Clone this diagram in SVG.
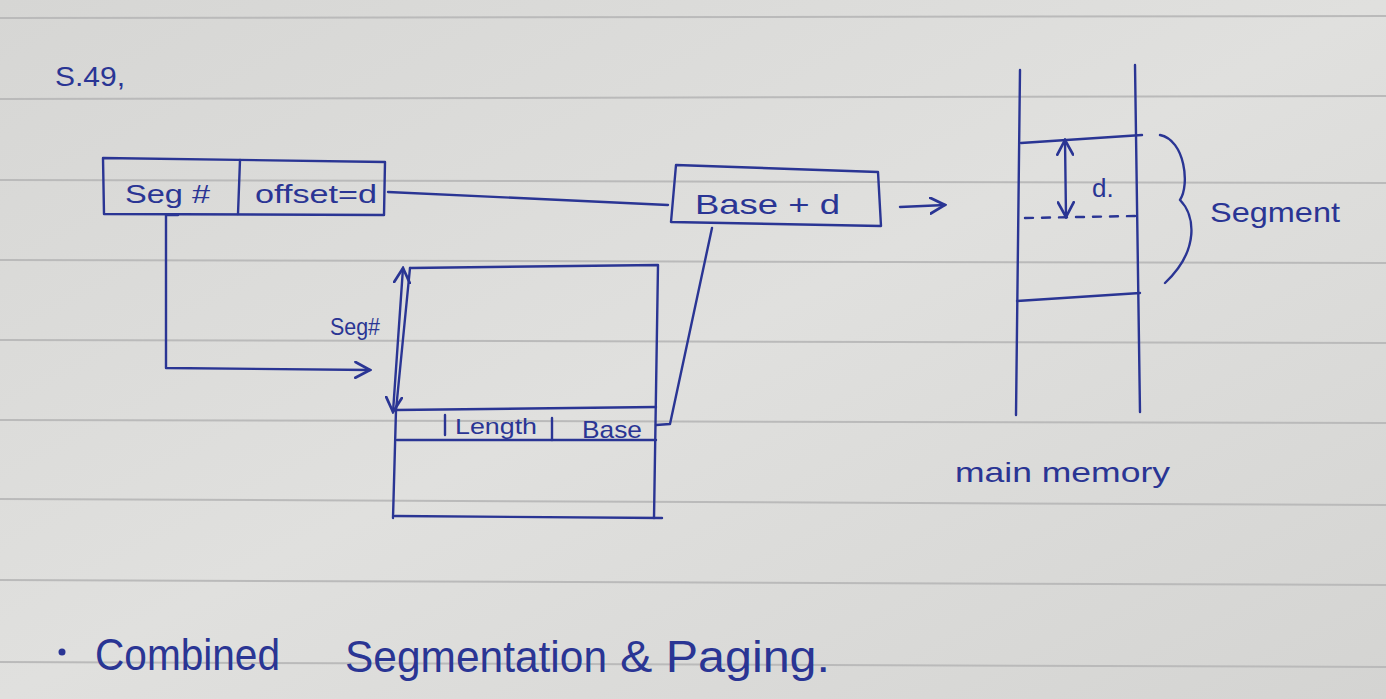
<svg xmlns="http://www.w3.org/2000/svg" width="1386" height="699" viewBox="0 0 1386 699">
<defs>
<linearGradient id="paper" x1="0" y1="0" x2="1" y2="1">
<stop offset="0" stop-color="#d6d6d4"/>
<stop offset="0.5" stop-color="#e0e0de"/>
<stop offset="1" stop-color="#d4d4d2"/>
</linearGradient>
<marker id="open" viewBox="0 0 16 16" refX="14" refY="8" markerWidth="18" markerHeight="18" markerUnits="userSpaceOnUse" orient="auto-start-reverse">
<path d="M1,1 L14,8 L1,15" fill="none" stroke="#2a3594" stroke-width="2.4" stroke-linecap="round"/>
</marker>
</defs>
<style>
.ink{fill:none;stroke:#2a3594;stroke-width:2.4;stroke-linecap:round;stroke-linejoin:round}
.rule{stroke:#bababa;stroke-width:2}
.t{fill:#2a3594;font-family:"Liberation Sans","DejaVu Sans",sans-serif}
</style>
<rect width="1386" height="699" fill="url(#paper)"/>
<g id="ruling">
<line class="rule" x1="0" y1="18" x2="1386" y2="16"/>
<line class="rule" x1="0" y1="99" x2="1386" y2="96"/>
<line class="rule" x1="0" y1="180" x2="1386" y2="183"/>
<line class="rule" x1="0" y1="260" x2="1386" y2="263"/>
<line class="rule" x1="0" y1="340" x2="1386" y2="343"/>
<line class="rule" x1="0" y1="420" x2="1386" y2="423"/>
<line class="rule" x1="0" y1="499" x2="1386" y2="505"/>
<line class="rule" x1="0" y1="580" x2="1386" y2="585"/>
<line class="rule" x1="0" y1="662" x2="1386" y2="667"/>
</g>
<text class="t" x="55" y="86" font-size="28" textLength="70" lengthAdjust="spacingAndGlyphs">S.49,</text>
<g id="logical-address">
<path class="ink" d="M103,158 L385,162 L384,215 L104,214 Z"/>
<line class="ink" x1="240" y1="160" x2="238" y2="214"/>
<text class="t" x="125" y="203" font-size="26" textLength="85" lengthAdjust="spacingAndGlyphs">Seg #</text>
<text class="t" x="255" y="203" font-size="26" textLength="122" lengthAdjust="spacingAndGlyphs">offset=d</text>
</g>
<g id="physical-address">
<path class="ink" d="M676,165 L878,172 L881,226 L671,222 Z"/>
<text class="t" x="695" y="214" font-size="28" textLength="145" lengthAdjust="spacingAndGlyphs">Base + d</text>
</g>
<g id="segment-table">
<path class="ink" d="M410,268 L658,265 L654,518"/>
<line class="ink" x1="396" y1="410" x2="393" y2="518"/>
<line class="ink" x1="410" y1="268" x2="396" y2="410"/>
<path class="ink" d="M396,410 L656,407"/>
<path class="ink" d="M397,440 L656,440"/>
<path class="ink" d="M395,516 L662,518"/>
<line class="ink" x1="445" y1="415" x2="445" y2="435"/>
<line class="ink" x1="552" y1="418" x2="552" y2="440"/>
<text class="t" x="455" y="434" font-size="22" textLength="82" lengthAdjust="spacingAndGlyphs">Length</text>
<text class="t" x="582" y="438" font-size="24" textLength="60" lengthAdjust="spacingAndGlyphs">Base</text>
<text class="t" x="330" y="335" font-size="24" textLength="50" lengthAdjust="spacingAndGlyphs">Seg#</text>
</g>
<g id="main-memory">
<line class="ink" x1="1020" y1="70" x2="1016" y2="415"/>
<line class="ink" x1="1135" y1="65" x2="1140" y2="412"/>
<path class="ink" d="M1021,143 L1142,135"/>
<path class="ink" d="M1017,301 L1140,293"/>
<line class="ink" x1="1025" y1="218" x2="1135" y2="216" stroke-dasharray="8,9"/>
<text class="t" x="1092" y="197" font-size="26">d.</text>
<path class="ink" d="M1160,135 C1185,140 1190,185 1180,200 C1195,215 1200,250 1165,283"/>
<text class="t" x="1210" y="222" font-size="28" textLength="130" lengthAdjust="spacingAndGlyphs">Segment</text>
<text class="t" x="955" y="482" font-size="28" textLength="215" lengthAdjust="spacingAndGlyphs">main memory</text>
</g>
<g id="connectors">
<path class="ink" d="M388,192 L668,205"/>
<path class="ink" d="M178,215 L166,215 L166,368 L370,370" marker-end="url(#open)"/>
<path class="ink" d="M656,425 L670,424 L712,228"/>
<line class="ink" x1="900" y1="207" x2="945" y2="205" marker-end="url(#open)"/>
<line class="ink" x1="403" y1="268" x2="393" y2="412" marker-start="url(#open)" marker-end="url(#open)"/>
<line class="ink" x1="1065" y1="140" x2="1066" y2="217" marker-start="url(#open)" marker-end="url(#open)"/>
</g>
<circle cx="62" cy="652" r="3.5" fill="#2a3594"/>
<text class="t" x="95" y="670" font-size="44" textLength="185" lengthAdjust="spacingAndGlyphs">Combined</text>
<text class="t" x="345" y="672" font-size="44" textLength="262" lengthAdjust="spacingAndGlyphs">Segmentation</text>
<text class="t" x="620" y="672" font-size="44" textLength="210" lengthAdjust="spacingAndGlyphs">&amp; Paging.</text>
</svg>
